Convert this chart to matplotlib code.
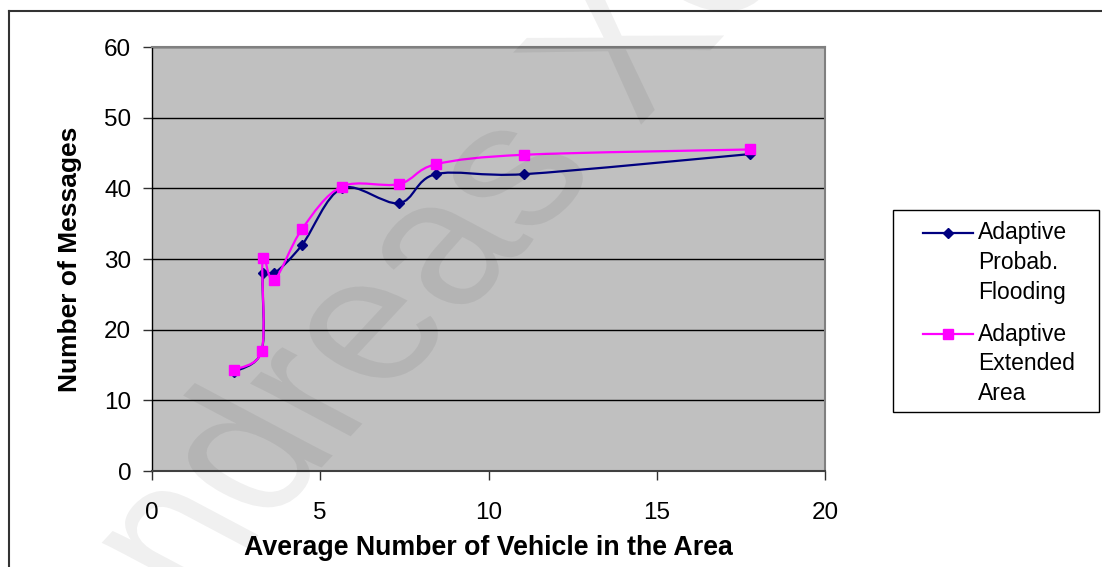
import numpy as np
import matplotlib
matplotlib.use("Agg")
import matplotlib.pyplot as plt
from matplotlib.path import Path
from matplotlib.patches import PathPatch, Rectangle
from matplotlib.lines import Line2D
from matplotlib.textpath import TextPath
from matplotlib.font_manager import FontProperties
from matplotlib.transforms import Affine2D, IdentityTransform

plt.rcParams['font.family'] = ['Liberation Sans', 'DejaVu Sans']

# data
x_probab = [2.43, 3.26, 3.30, 3.64, 4.46, 5.64, 7.34, 8.43, 11.05, 17.78]
y_probab = [14.0, 17.0, 28.0, 28.0, 32.0, 40.0, 37.9, 42.0, 42.0, 44.85]
x_extended = [2.43, 3.26, 3.29, 3.63, 4.46, 5.64, 7.34, 8.43, 11.05, 17.78]
y_extended = [14.3, 17.0, 30.1, 27.0, 34.25, 40.25, 40.6, 43.4, 44.75, 45.5]
label_probab = "Adaptive\nProbab.\nFlooding"
label_extended = "Adaptive\nExtended\nArea"
x_ticks = [0, 5, 10, 15, 20]
y_ticks = [0, 10, 20, 30, 40, 50, 60]

W, H = 1102, 567
NAVY = "#000080"
PINK = "#FF00FF"


def fx(px):
    return px / W


def fy(py):
    return 1 - py / H


def excel_smooth(ax, xs, ys):
    # bezier smoothing like Excel's "smoothed line", done in pixel space
    pts = ax.transData.transform(np.column_stack([xs, ys]))
    n = len(pts)
    verts = [pts[0]]
    codes = [Path.MOVETO]
    for i in range(n - 1):
        p0 = pts[i - 1] if i > 0 else pts[i]
        p1 = pts[i]
        p2 = pts[i + 1]
        p3 = pts[i + 2] if i + 2 < n else pts[i + 1]
        d12 = np.hypot(*(p2 - p1))
        t1 = (p2 - p0) / 6.0
        t2 = (p3 - p1) / 6.0
        for t in (t1, t2):
            L = np.hypot(*t)
            if L > d12 / 2 and L > 0:
                t *= (d12 / 2) / L
        verts += [p1 + t1, p2 - t2, p2]
        codes += [Path.CURVE4] * 3
    verts = ax.transData.inverted().transform(np.array(verts))
    return Path(verts, codes)


fig = plt.figure(figsize=(W / 100, H / 100), dpi=100)
ax = fig.add_axes([fx(152), fy(471), (825 - 152) / W, (471 - 47) / H])
ax.set_facecolor("#C0C0C0")
ax.set_xlim(0, 20)
ax.set_ylim(0, 60)
ax.set_xticks(x_ticks)
ax.set_yticks(y_ticks)
ax.tick_params(axis='both', direction='out', length=6.5, width=1, colors='#303030',
               labelsize=17.5, labelcolor='black')
ax.tick_params(axis='y', pad=8.5)
ax.tick_params(axis='x', pad=16)
ax.yaxis.grid(True, color='black', linewidth=1)
ax.set_axisbelow(True)
for side in ('top', 'right'):
    ax.spines[side].set_color('#808080')
    ax.spines[side].set_linewidth(1.5)
ax.spines['left'].set_color('black')
ax.spines['left'].set_linewidth(1)
ax.spines['bottom'].set_color('#404040')
ax.spines['bottom'].set_linewidth(1.5)

ax.set_xlabel("Average Number of Vehicle in the Area", fontsize=19.3, fontweight='bold')
ax.xaxis.set_label_coords(0.5, (471 - 548) / 424)
ax.xaxis.label.set_verticalalignment('center')
ax.set_ylabel("Number of Messages", fontsize=19, fontweight='bold')
ax.yaxis.set_label_coords((70 - 152) / 673, 0.5)
ax.yaxis.label.set_verticalalignment('center')

fig.canvas.draw()
ax.add_patch(PathPatch(excel_smooth(ax, x_probab, y_probab), fill=False,
                       edgecolor=NAVY, linewidth=1.6, zorder=3))
ax.plot(x_probab, y_probab, linestyle='none', marker='D', markersize=5.3,
        color=NAVY, zorder=4)
ax.add_patch(PathPatch(excel_smooth(ax, x_extended, y_extended), fill=False,
                       edgecolor=PINK, linewidth=1.6, zorder=5))
ax.plot(x_extended, y_extended, linestyle='none', marker='s', markersize=7.5,
        color=PINK, zorder=6)

# legend drawn by hand: handle sits on the first text line
fig.add_artist(Rectangle((fx(893), fy(412)), (1099 - 893) / W, (412 - 210) / H,
                         transform=fig.transFigure, facecolor='white',
                         edgecolor='black', linewidth=1))
entries = [(label_probab, NAVY, 'D', 5.3, 233, 239.5),
           (label_extended, PINK, 's', 7.5, 334, 340.5)]
for label, col, mk, ms, ly, base in entries:
    fig.add_artist(Line2D([fx(923), fx(973)], [fy(ly), fy(ly)], color=col,
                          linewidth=1.6, marker=None, transform=fig.transFigure))
    fig.add_artist(Line2D([fx(948)], [fy(ly)], color=col, marker=mk, markersize=ms,
                          linestyle='none', transform=fig.transFigure))
    for k, line in enumerate(label.split("\n")):
        fig.text(fx(978), fy(base + 29.5 * k), line, fontsize=16.5,
                 va='baseline', ha='left')

# outer chart border
fig.add_artist(Line2D([fx(9), fx(W + 5)], [fy(10.5), fy(10.5)], color='#333333',
                      linewidth=1.5, transform=fig.transFigure))
fig.add_artist(Line2D([fx(9), fx(9)], [fy(10.5), fy(H + 5)], color='#333333',
                      linewidth=1.5, transform=fig.transFigure))

# faint diagonal watermark
tp = TextPath((0, 0), "Andreas Xeros", size=175,
              prop=FontProperties(family='Liberation Sans'))
wm_trans = Affine2D().rotate_deg(54.9).scale(1.326, 1).translate(104, -134)
fig.add_artist(PathPatch(wm_trans.transform_path(tp), transform=IdentityTransform(),
                         facecolor='black', edgecolor='none', alpha=0.06, zorder=10))

fig.savefig("out.png", dpi=100)
